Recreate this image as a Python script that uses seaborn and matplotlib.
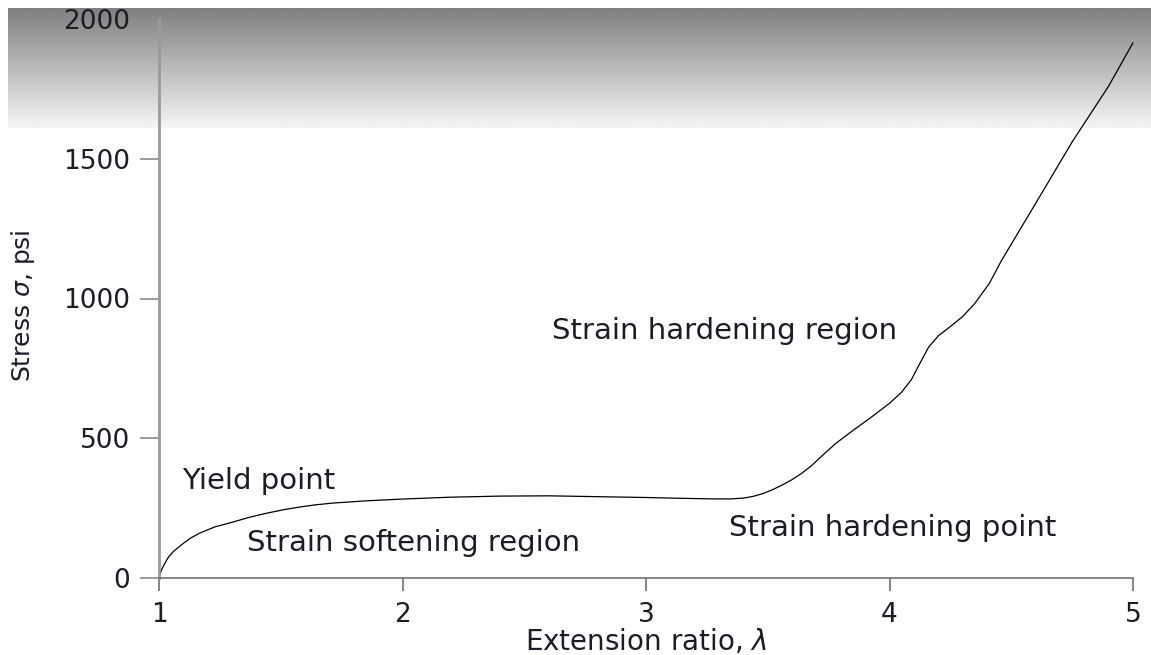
import numpy as np
import matplotlib
matplotlib.use("Agg")
import matplotlib.pyplot as plt
import seaborn as sns
import pandas as pd

# ---- data ----
extension_ratio = [1.00, 1.005, 1.012, 1.02, 1.03, 1.04, 1.057, 1.08, 1.10, 1.13, 1.168,
                   1.23, 1.303, 1.37, 1.443, 1.51, 1.578, 1.645, 1.713, 1.85, 1.988,
                   2.193, 2.40, 2.60, 2.80, 3.00, 3.15, 3.28, 3.35, 3.40, 3.44,
                   3.48, 3.52, 3.56, 3.60, 3.64, 3.68, 3.72, 3.78, 3.85, 3.92,
                   4.00, 4.05, 4.09, 4.12, 4.16, 4.20, 4.24, 4.30, 4.35, 4.41,
                   4.46, 4.60, 4.75, 4.90, 5.00]
stress_psi = [0, 16, 32, 46, 62, 76, 93, 110, 124, 143, 161,
              183, 200, 217, 232, 244, 254, 262, 268, 276, 282,
              289, 293, 294, 291, 288, 285, 283, 283, 286, 292,
              302, 316, 333, 352, 375, 402, 435, 482, 528, 572,
              625, 665, 710, 760, 825, 866, 893, 935, 982, 1054,
              1136, 1340, 1560, 1760, 1915]
x_ticks = [1, 2, 3, 4, 5]
y_ticks = [0, 500, 1000, 1500, 2000]
annotations = ["Yield point", "Strain softening region",
               "Strain hardening region", "Strain hardening point"]
annot_x = [1.095, 1.362, 2.613, 3.34]
annot_y = [318, 96, 854, 150]

df = pd.DataFrame({"lam": extension_ratio, "sigma": stress_psi})

sns.set_theme(style="white")
plt.rcParams["font.family"] = ["DejaVu Sans"]
plt.rcParams["mathtext.fontset"] = "dejavusans"

W, H = 1151, 655
fig = plt.figure(figsize=(W / 100, H / 100), dpi=100, facecolor="white")

# grey gradient band at the top of the picture
gax = fig.add_axes([8 / W, (H - 128) / H, (W - 8) / W, 120 / H], zorder=0)
grad = np.linspace(0.50, 0.96, 200).reshape(-1, 1)
gax.imshow(grad, aspect="auto", cmap="gray", vmin=0, vmax=1,
           extent=[0, 1, 0, 1], origin="upper")
gax.set_axis_off()

ax = fig.add_axes([159 / W, 1 - 578 / H, (1133 - 159) / W, (578 - 19) / H], zorder=1)
ax.set_facecolor("none")

sns.lineplot(data=df, x="lam", y="sigma", ax=ax, color="black", linewidth=0.9,
             sort=False, estimator=None)
for ln in ax.lines:
    ln.set_clip_on(False)

ax.set_xlim(1, 5)
ax.set_ylim(0, 2000)
ax.set_xticks(x_ticks)
ax.set_yticks(y_ticks)
ax.set_xticklabels([str(v) for v in x_ticks])
ax.set_yticklabels([str(v) for v in y_ticks])

for s in ["top", "right"]:
    ax.spines[s].set_visible(False)
ax.spines["left"].set_color("#9a9a9a")
ax.spines["left"].set_linewidth(2.0)
ax.spines["bottom"].set_color("#707070")
ax.spines["bottom"].set_linewidth(1.2)

txt_color = "#1c1c26"
ax.tick_params(axis="x", which="major", direction="out", length=9, width=1.2,
               color="#707070", pad=8, labelsize=19, labelcolor=txt_color, bottom=True)
ax.tick_params(axis="y", which="major", direction="out", length=14, width=1.2,
               color="#8a8a8a", pad=7, labelsize=19, labelcolor=txt_color, left=True)

ax.set_xlabel("Extension ratio, $\\lambda$", fontsize=20, color=txt_color)
ax.set_ylabel("Stress $\\sigma$, psi", fontsize=18, color=txt_color)
ax.xaxis.set_label_coords(0.5, -0.087)
ax.yaxis.set_label_coords(-0.1255, 0.487)

for t, xx, yy in zip(annotations, annot_x, annot_y):
    ax.text(xx, yy, t, fontsize=21, color=txt_color, ha="left", va="baseline")

fig.savefig("out.png", dpi=100, facecolor="white")
